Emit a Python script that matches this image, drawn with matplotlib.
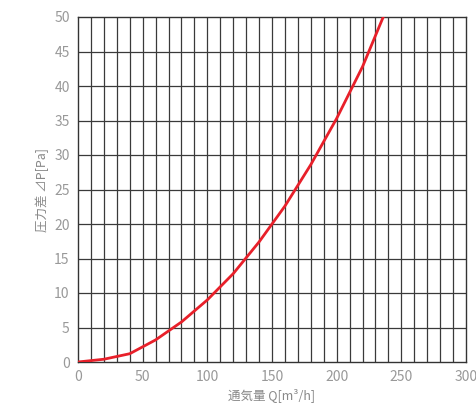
import matplotlib
matplotlib.use("Agg")
import matplotlib.pyplot as plt

plt.rcParams['font.family'] = ['Noto Sans CJK JP', 'DejaVu Sans']

flow_q = [0, 20, 40, 60, 80, 100, 120, 140, 160, 180, 200, 220, 236]
pressure_dp = [0, 0.4, 1.2, 3.2, 5.8, 9.0, 12.8, 17.4, 22.6, 28.6, 35.3, 42.8, 50]
x_ticks = [0, 50, 100, 150, 200, 250, 300]
y_ticks = [0, 5, 10, 15, 20, 25, 30, 35, 40, 45, 50]

fig = plt.figure(figsize=(4.76, 4.04), dpi=100)
ax = fig.add_axes([78/476, 42/404, 388/476, 345/404])

for xv in range(10, 300, 10):
    ax.axvline(xv, color='#3a3a3a', lw=0.9, zorder=1)
for yv in y_ticks[1:-1]:
    ax.axhline(yv, color='#3a3a3a', lw=0.9, zorder=1)

ax.plot(flow_q, pressure_dp, color='#e8202a', lw=2, zorder=3, solid_capstyle='round')

ax.set_xlim(0, 300)
ax.set_ylim(0, 50)
ax.set_xticks(x_ticks)
ax.set_yticks(y_ticks)
ax.tick_params(length=0, labelsize=10, labelcolor='#999999', pad=6)
for s in ax.spines.values():
    s.set_color('#333333')
    s.set_linewidth(1.0)

ax.set_xlabel('通気量 Q[m³/h]', fontsize=9, color='#888888', labelpad=3)
ax.set_ylabel('圧力差 ⊿P[Pa]', fontsize=9, color='#888888', labelpad=4)

fig.savefig('out.png', dpi=100, facecolor='white')
